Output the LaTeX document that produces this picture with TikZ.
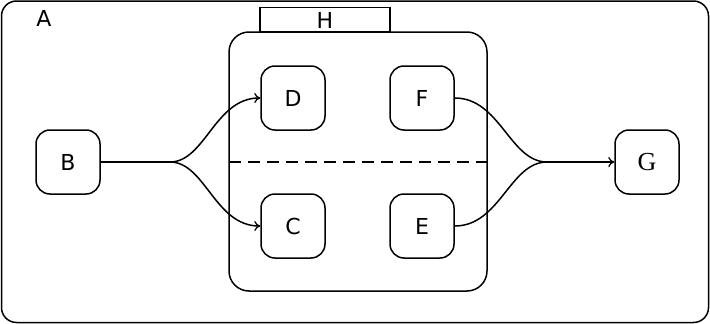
\documentclass[tikz,border=0pt]{standalone}
\usepackage{fontspec}
\setmainfont{DejaVu Sans}
\newfontfamily\gfont{Liberation Serif}
\usetikzlibrary{arrows.meta}
\begin{document}
\begin{tikzpicture}[x=1pt,y=-1pt,
  frame/.style={draw,line width=1.5pt,rounded corners=15pt},
  region/.style={draw,line width=1.5pt,rounded corners=20pt},
  state/.style={draw,line width=1.5pt,rounded corners=14pt,minimum width=64pt,minimum height=64pt,inner sep=0pt,font=\fontsize{22}{22}\selectfont},
  lbl/.style={inner sep=0pt,font=\fontsize{22}{22}\selectfont},
  flow/.style={line width=1.5pt},
  tip/.style={-{To[length=6pt,width=10pt,line width=1.3pt]}}]
\useasboundingbox (0,0) rectangle (710,324);
% outer state A
\draw[frame] (1.5,1) rectangle (708.5,322.5);
\node[lbl] (A) at (44,18.5) {A};
% composite region H with its tab
\draw[line width=1.5pt] (260,32) rectangle (390,7.5);
\node[lbl] (H) at (325,20) {H};
\draw[region] (229,32) rectangle (487,291);
\draw[flow,dashed,dash pattern=on 12pt off 7pt] (229,162) -- (487,162);
% states
\node[state] (B) at (68,162) {B};
\node[state] (D) at (293,98) {D};
\node[state] (F) at (422,98) {F};
\node[state] (C) at (293,226) {C};
\node[state] (E) at (422,226) {E};
\node[state,font=\gfont\fontsize{26}{26}\selectfont] (G) at (647,162) {G};
% fork and join
\coordinate (fork) at (170,162);
\coordinate (join) at (547,162);
\draw[flow] (B.east) -- (fork);
\draw[flow,tip] (fork) .. controls (205,162) and (215,98) .. (D.west);
\draw[flow,tip] (fork) .. controls (205,162) and (215,226) .. (C.west);
\draw[flow] (F.east) .. controls (500,98) and (510,162) .. (join);
\draw[flow] (E.east) .. controls (500,226) and (510,162) .. (join);
\draw[flow,tip] (join) -- (G.west);
\end{tikzpicture}
\end{document}
